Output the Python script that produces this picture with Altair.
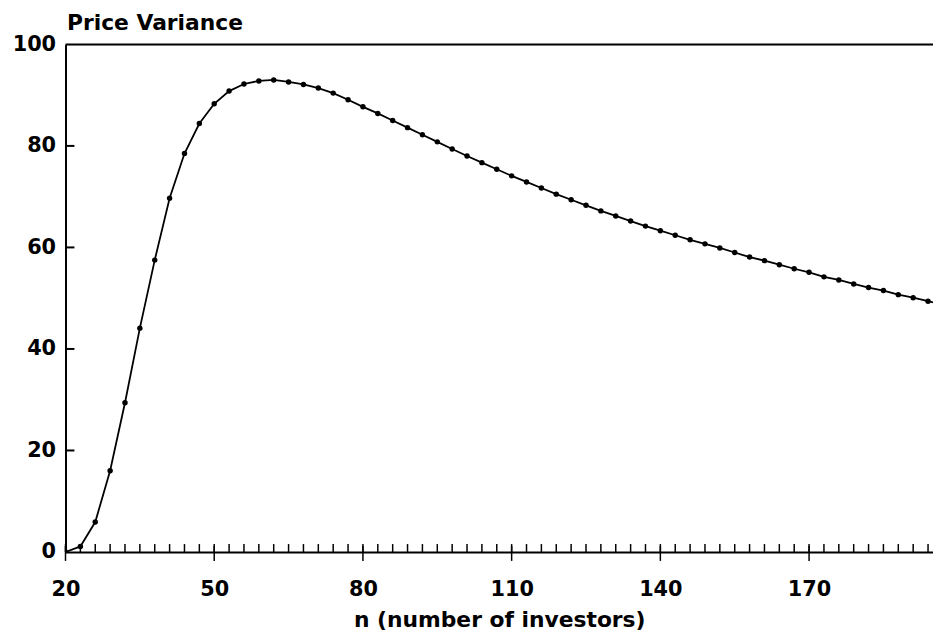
import altair as alt
import pandas as pd

# ---- data ----
n_values = [20, 23, 26, 29, 32, 35, 38, 41, 44, 47,
            50, 53, 56, 59, 62, 65, 68, 71, 74, 77,
            80, 83, 86, 89, 92, 95, 98, 101, 104, 107,
            110, 113, 116, 119, 122, 125, 128, 131, 134, 137,
            140, 143, 146, 149, 152, 155, 158, 161, 164, 167,
            170, 173, 176, 179, 182, 185, 188, 191, 194, 197]
price_variance = [0.0, 1.1, 5.9, 16.0, 29.4, 44.1, 57.5, 69.7, 78.5, 84.4,
                  88.3, 90.8, 92.2, 92.8, 93.0, 92.6, 92.1, 91.4, 90.4, 89.1,
                  87.7, 86.4, 85.0, 83.6, 82.2, 80.8, 79.4, 78.0, 76.7, 75.4,
                  74.1, 72.9, 71.7, 70.5, 69.4, 68.3, 67.2, 66.2, 65.2, 64.2,
                  63.3, 62.4, 61.5, 60.7, 59.9, 59.0, 58.1, 57.4, 56.6, 55.8,
                  55.1, 54.2, 53.6, 52.8, 52.1, 51.5, 50.7, 50.1, 49.4, 48.7]
x_tick_labels = [20, 50, 80, 110, 140, 170]
y_tick_labels = [0, 20, 40, 60, 80, 100]
y_inner_ticks = [20, 40, 60, 80]
x_minor_ticks = [n for n in n_values if n <= 195]

W, H = 875, 512
FONT = "DejaVu Sans"
FS = 21
TFS = 22

df = pd.DataFrame({"n": n_values, "v": price_variance})
xs = alt.Scale(domain=[20, 195], nice=False, zero=False)
ys = alt.Scale(domain=[0, 100], nice=False)

x_axis = alt.Axis(values=x_tick_labels, ticks=False, tickSize=0, grid=False,
                  labelFont=FONT, labelFontSize=FS, labelFontWeight="bold",
                  labelColor="black", labelBaseline="alphabetic", labelPadding=44,
                  labelFlush=False, domainColor="black", domainWidth=2,
                  title="n (number of investors)", titleFont=FONT,
                  titleFontSize=TFS, titleFontWeight="bold", titleColor="black",
                  titleBaseline="alphabetic", titleY=75)
y_axis = alt.Axis(values=y_tick_labels, ticks=False, tickSize=0, grid=False,
                  labelFont=FONT, labelFontSize=FS, labelFontWeight="bold",
                  labelColor="black", labelPadding=10, domainColor="black",
                  domainWidth=2, title="Price Variance", titleFont=FONT,
                  titleFontSize=TFS, titleFontWeight="bold", titleColor="black",
                  titleAngle=0, titleAlign="left", titleBaseline="alphabetic",
                  titleX=1, titleY=-15)


def X(field):
    return alt.X(field, scale=xs, axis=x_axis)


def Y(field):
    return alt.Y(field, scale=ys, axis=y_axis)


line = alt.Chart(df).mark_line(color="black", strokeWidth=1.8, clip=True).encode(
    x=X("n:Q"), y=Y("v:Q"))
pts = alt.Chart(df).mark_circle(color="black", size=30, opacity=1, clip=True).encode(
    x=X("n:Q"), y=Y("v:Q"))

top_line = alt.Chart(pd.DataFrame({"v": [100]})).mark_rule(
    color="black", strokeWidth=2).encode(
    y=Y("v:Q"), x=alt.value(0), x2=alt.value(W))

yt = alt.Chart(pd.DataFrame({"v": y_inner_ticks})).mark_rule(
    color="black", strokeWidth=2).encode(
    y=Y("v:Q"), x=alt.value(0), x2=alt.value(9))

xt_minor = alt.Chart(pd.DataFrame({"n": x_minor_ticks})).mark_rule(
    color="black", strokeWidth=1.5).encode(
    x=X("n:Q"), y=alt.value(H), y2=alt.value(H - 8))

xt_major = alt.Chart(pd.DataFrame({"n": x_tick_labels})).mark_rule(
    color="black", strokeWidth=1.5).encode(
    x=X("n:Q"), y=alt.value(H - 6), y2=alt.value(H + 9))

chart = alt.layer(line, pts, top_line, yt, xt_minor, xt_major).properties(
    width=W, height=H,
    autosize=alt.AutoSizeParams(type="none"),
    padding={"left": 58, "top": 34, "right": 0, "bottom": 78},
).configure_view(strokeWidth=0).configure(background="white")

chart.save("out.html", embed_options={"renderer": "svg", "actions": False})
